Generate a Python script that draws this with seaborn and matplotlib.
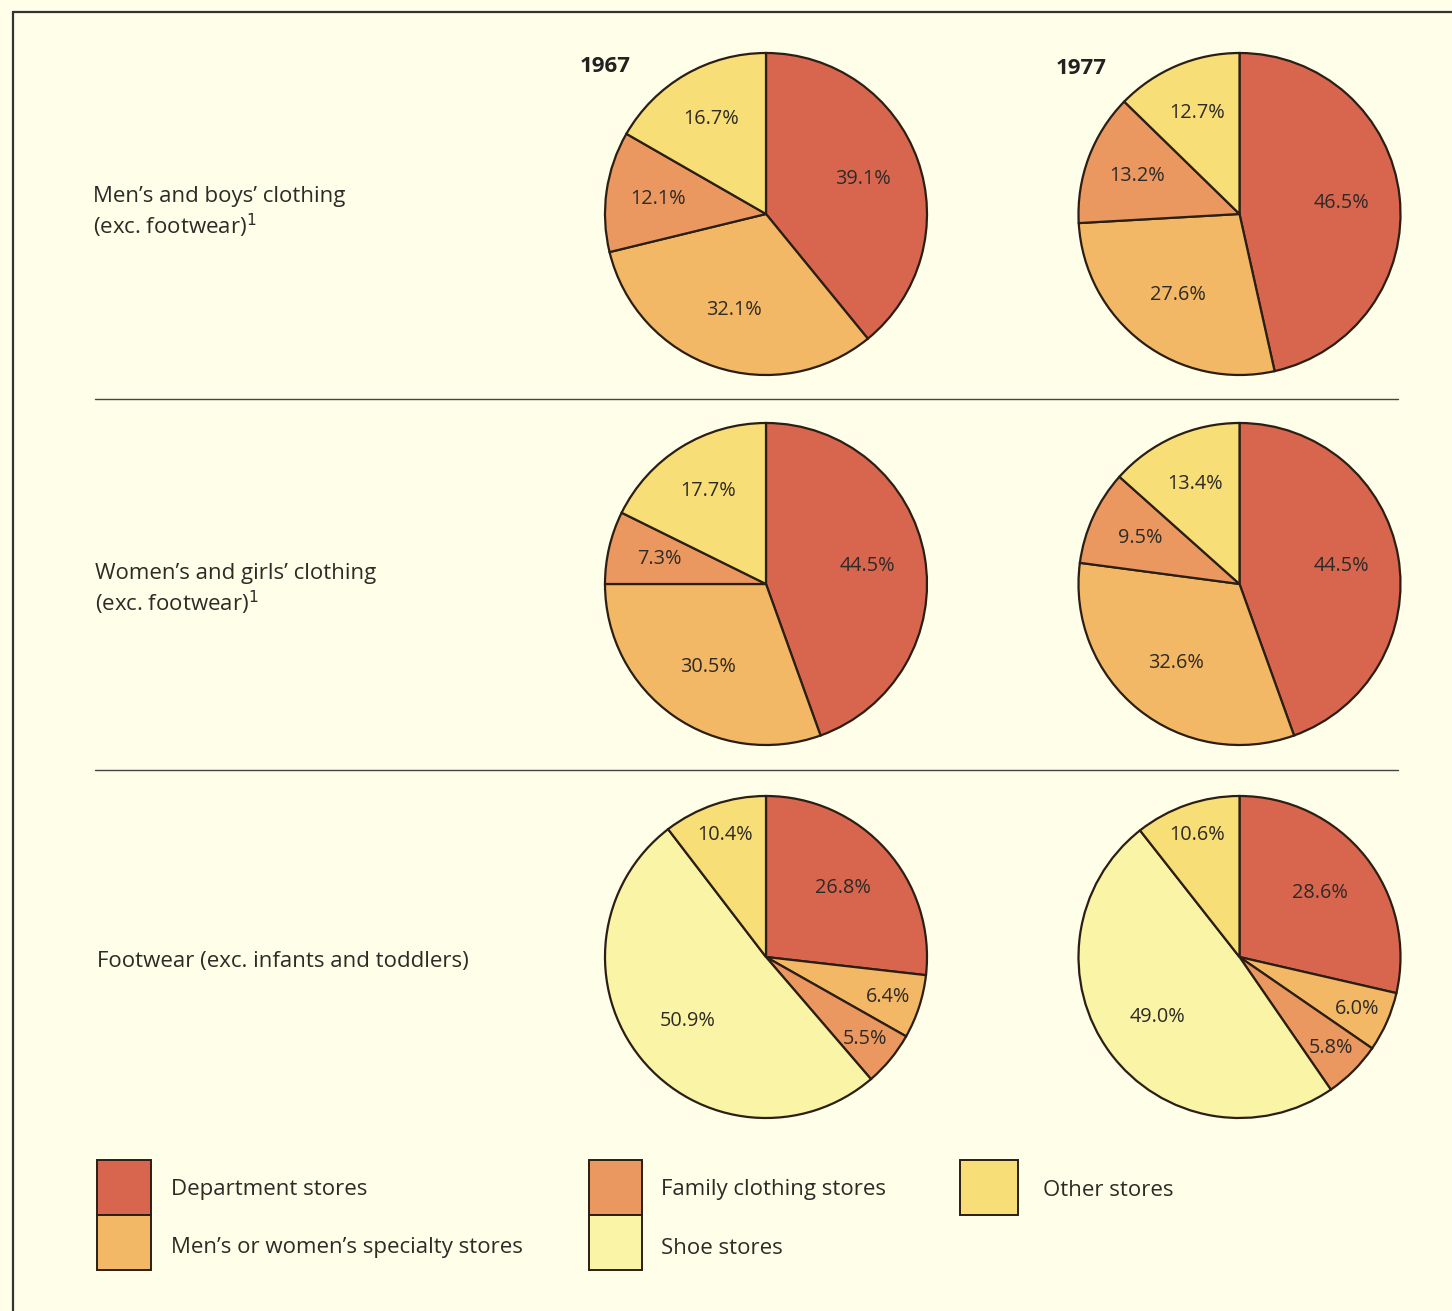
import numpy as np
import matplotlib
matplotlib.use("Agg")
import matplotlib.pyplot as plt
import seaborn as sns
from matplotlib.patches import Rectangle

sns.set_theme(style="white")
plt.rcParams['font.family'] = ['Open Sans', 'DejaVu Sans']

# ---------------- data ----------------
categories = ["Department stores", "Men\u2019s or women\u2019s specialty stores",
              "Family clothing stores", "Shoe stores", "Other stores"]
years = ["1967", "1977"]
row_labels = ["Men\u2019s and boys\u2019 clothing\n(exc. footwear)$^1$",
              "Women\u2019s and girls\u2019 clothing\n(exc. footwear)$^1$",
              "Footwear (exc. infants and toddlers)"]
# values in clockwise order from 12 o'clock: dept, specialty, family, shoe, other
men_1967 = [39.1, 32.1, 12.1, 0.0, 16.7]
men_1977 = [46.5, 27.6, 13.2, 0.0, 12.7]
women_1967 = [44.5, 30.5, 7.3, 0.0, 17.7]
women_1977 = [44.5, 32.6, 9.5, 0.0, 13.4]
foot_1967 = [26.8, 6.4, 5.5, 50.9, 10.4]
foot_1977 = [28.6, 6.0, 5.8, 49.0, 10.6]

colors = ["#D8664F", "#F2B865", "#EA9860", "#FAF4A6", "#F7DE76"]
BG = "#FEFEE9"
EDGE = "#2B1E14"
TXT = "#2E2A26"

W, H = 1452, 1311
fig = plt.figure(figsize=(W / 100, H / 100), dpi=100, facecolor=BG)

# background axes in pixel coordinates
bg = fig.add_axes([0, 0, 1, 1])
bg.set_xlim(0, W)
bg.set_ylim(H, 0)
bg.axis("off")
bg.set_facecolor(BG)

# frame (top and left only)
bg.plot([13, W], [12, 12], color="#333333", lw=1.6)
bg.plot([13, 13], [12, H], color="#333333", lw=1.6)

# separators
for y in [399, 770]:
    bg.plot([95, 1398], [y, y], color="#444444", lw=1.0)

# year headers
bg.text(580, 67, years[0], fontsize=16, fontweight="bold", color="#222222", va="center", ha="left")
bg.text(1056, 68, years[1], fontsize=16, fontweight="bold", color="#222222", va="center", ha="left")

# row labels
bg.text(93, 213, row_labels[0], fontsize=16, color=TXT, va="center", ha="left", linespacing=1.25)
bg.text(95, 590, row_labels[1], fontsize=16, color=TXT, va="center", ha="left", linespacing=1.25)
bg.text(97, 961, row_labels[2], fontsize=16, color=TXT, va="center", ha="left")

rows = [[men_1967, men_1977], [women_1967, women_1977], [foot_1967, foot_1977]]
centers_x = [766, 1239.5]
centers_y = [214, 584, 957]
R = 161


def draw_pie(cx, cy, vals):
    ax = fig.add_axes([(cx - R - 4) / W, 1 - (cy + R + 4) / H, (2 * R + 8) / W, (2 * R + 8) / H])
    ax.set_facecolor("none")
    idx = [i for i, v in enumerate(vals) if v > 0]
    has_shoe = vals[3] > 0
    v = [vals[i] for i in idx]
    c = [colors[i] for i in idx]
    wedges, _ = ax.pie(v, colors=c, startangle=90, counterclock=False, radius=1.0,
                       wedgeprops=dict(edgecolor=EDGE, linewidth=1.6))
    for w, val, ci in zip(wedges, v, idx):
        mid = np.deg2rad((w.theta1 + w.theta2) / 2)
        if val < 7 or (has_shoe and ci == 4):
            d = 0.8
        elif ci == 0:
            d = 0.64
        elif val >= 25:
            d = 0.63
        else:
            d = 0.68
        ax.text(d * np.cos(mid), d * np.sin(mid), f"{val:.1f}%", ha="center", va="center",
                fontsize=14.3, color=TXT)
    s = (R + 4) / R
    ax.set_xlim(-s, s)
    ax.set_ylim(-s, s)
    ax.set_aspect("equal")
    ax.axis("off")


for r, cy in enumerate(centers_y):
    for k, cx in enumerate(centers_x):
        draw_pie(cx, cy, rows[r][k])

# legend
legend_layout = [(0, 97, 1160, 54, 171, 29), (1, 97, 1215, 54, 171, 32),
                 (2, 589, 1160, 53, 661, 29), (3, 589, 1215, 53, 661, 33),
                 (4, 960, 1160, 58, 1043, 30)]
for ci, x0, y0, w, tx, dy in legend_layout:
    bg.add_patch(Rectangle((x0, y0), w, 55, facecolor=colors[ci], edgecolor=EDGE, lw=1.4))
    bg.text(tx, y0 + dy, categories[ci], fontsize=16, color=TXT, va="center", ha="left")

fig.savefig("out.png", dpi=100, facecolor=BG)
